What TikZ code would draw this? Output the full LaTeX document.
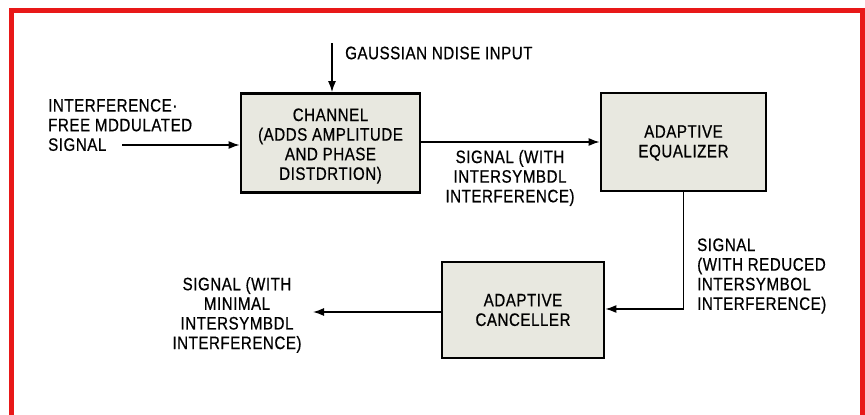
\documentclass[tikz,border=0pt]{standalone}
\usepackage{fontspec}
\setmainfont{Liberation Sans}[FakeStretch=0.84,LetterSpace=3,FakeBold=0.6]
\usetikzlibrary{arrows.meta}
\definecolor{frame}{RGB}{232,24,24}
\definecolor{boxfill}{RGB}{232,232,224}
\tikzset{
  blk/.style={draw=black,line width=2.8pt,fill=boxfill,inner sep=0pt},
  conn/.style={line width=1.3pt,-{Latex[length=11pt,width=8pt]}},
  lbl/.style={inner sep=0pt,font=\fontsize{18}{19.6}\selectfont},
}
\begin{document}
\begin{tikzpicture}[x=1pt,y=-1pt]
\useasboundingbox (0,0) rectangle (865,415);
\fill[white] (0,0) rectangle (865,415);
\draw[frame,line width=5pt] (11,420) -- (11,10) -- (862,10) -- (862,420);
% blocks
\node[blk,minimum width=179pt,minimum height=99pt] (chan) at (330.5,143) {};
\node[blk,minimum width=165pt,minimum height=98pt] (eq) at (683.5,142) {};
\node[blk,minimum width=162pt,minimum height=96pt] (canc) at (523,310) {};
% block texts
\node[lbl,align=center] (chant) at (330.5,146) {CHANNEL\\(ADDS AMPLITUDE\\AND PHASE\\DISTDRTION)};
\node[lbl,align=center] (eqt) at (683.5,143) {ADAPTIVE\\EQUALIZER};
\node[lbl,align=center] (canct) at (523,310) {ADAPTIVE\\CANCELLER};
% labels
\node[lbl,anchor=west] (noise) at (345,53) {GAUSSIAN NDISE INPUT};
\node[lbl,anchor=west,align=left] (inp) at (48,125) {INTERFERENCE·\\FREE MDDULATED\\SIGNAL};
\node[lbl,align=center] (sig1) at (510,178) {SIGNAL (WITH\\INTERSYMBDL\\INTERFERENCE)};
\node[lbl,anchor=west,align=left] (sig2) at (697,276) {SIGNAL\\(WITH REDUCED\\INTERSYMBOL\\INTERFERENCE)};
\node[lbl,align=center] (sig3) at (237,315) {SIGNAL (WITH\\MINIMAL\\INTERSYMBDL\\INTERFERENCE)};
% connectors
\coordinate (ntop) at (332,43);
\coordinate (inst) at (122,145);
\coordinate (outend) at (313,312);
\draw[conn] (ntop) -- (ntop |- chan.north);
\draw[conn] (inst) -- (inst -| chan.west);
\draw[conn] (chan.east |- 0,142) -- (eq.west |- 0,142);
\draw[conn] (eq.south) -- (eq.south |- 0,309) -- (canc.east |- 0,309);
\draw[conn] (canc.west |- outend) -- (outend);
\end{tikzpicture}
\end{document}
